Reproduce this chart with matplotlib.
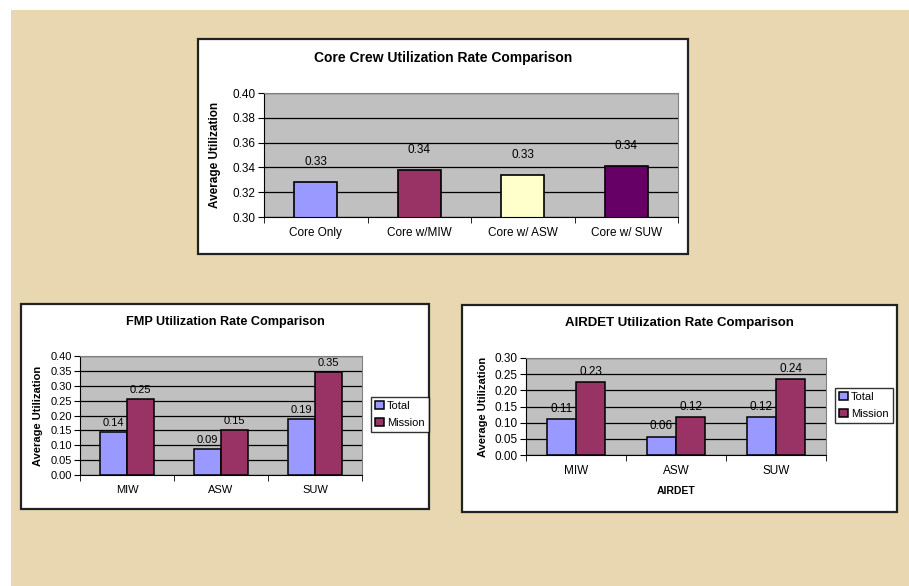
import numpy as np
import matplotlib
matplotlib.use('Agg')
import matplotlib.pyplot as plt
from matplotlib.patches import Rectangle

plt.rcParams['font.family'] = ['Liberation Sans', 'DejaVu Sans']

# core crew comparison
core_cats = ['Core Only', 'Core w/MIW', 'Core w/ ASW', 'Core w/ SUW']
core_vals = [0.328, 0.338, 0.334, 0.341]
core_colors = ['#9999FF', '#993366', '#FFFFCC', '#660066']

# detachment comparisons
det_cats = ['MIW', 'ASW', 'SUW']
fmp_total = [0.144, 0.088, 0.189]
fmp_mission = [0.254, 0.152, 0.346]
airdet_total = [0.110, 0.057, 0.117]
airdet_mission = [0.226, 0.117, 0.236]

W, H = 909, 586
fig = plt.figure(figsize=(W / 100, H / 100), dpi=100, facecolor='white')

def px_rect(l, t, r, b, **kw):
    fig.patches.append(Rectangle((l / W, 1 - b / H), (r - l) / W, (b - t) / H,
                                 transform=fig.transFigure, **kw))

def px_axes(l, t, r, b):
    a = fig.add_axes([l / W, 1 - b / H, (r - l) / W, (b - t) / H])
    a.set_zorder(3)
    return a

# page background and chart frames
px_rect(11, 10, W + 5, H + 5, facecolor='#E8D7B0', edgecolor='none', zorder=0)
px_rect(198, 39, 688, 254, facecolor='white', edgecolor='#222222', lw=1.6, zorder=1)
px_rect(21, 304, 429, 509, facecolor='white', edgecolor='#222222', lw=1.6, zorder=1)
px_rect(462, 305, 897, 512, facecolor='white', edgecolor='#222222', lw=1.6, zorder=1)

def style_axes(ax, ymin, ymax, step, ncat, fs, xpad):
    ax.set_facecolor('#C0C0C0')
    ax.set_ylim(ymin, ymax)
    ax.set_xlim(-0.5, ncat - 0.5)
    ticks = np.arange(ymin, ymax + step / 2, step)
    ax.set_yticks(ticks)
    ax.set_yticklabels(['%.2f' % t for t in ticks], fontsize=fs)
    ax.yaxis.grid(True, color='black', lw=0.9)
    ax.set_axisbelow(True)
    for s in ['top', 'right']:
        ax.spines[s].set_color('#808080')
    for s in ['left', 'bottom']:
        ax.spines[s].set_color('black')
    ax.set_xticks(range(ncat))
    ax.set_xticks(np.arange(-0.5, ncat, 1.0), minor=True)
    ax.tick_params(axis='x', which='major', length=0, pad=xpad, labelsize=fs)
    ax.tick_params(axis='x', which='minor', length=4, direction='out')
    ax.tick_params(axis='y', length=4, direction='out', pad=2)

def add_labels(ax, bars, vals, offset, fs):
    for b, v in zip(bars, vals):
        ax.annotate('%.2f' % v, (b.get_x() + b.get_width() / 2, v),
                    xytext=(0, offset), textcoords='offset points',
                    ha='center', va='bottom', fontsize=fs)

# top chart
ax = px_axes(264, 93, 678, 217)
style_axes(ax, 0.30, 0.40, 0.02, 4, 8.5, 7)
x = np.arange(4)
bars = ax.bar(x, core_vals, width=0.42, color=core_colors, edgecolor='black', lw=1.2)
ax.set_xticklabels(core_cats)
add_labels(ax, bars, core_vals, 10, 8.5)
ax.set_ylabel('Average Utilization', fontsize=8.5, fontweight='bold', labelpad=8)
fig.text(443 / W, 1 - 58 / H, 'Core Crew Utilization Rate Comparison',
         ha='center', va='center', fontsize=10, fontweight='bold', zorder=4)

def pair_chart(box, vals_t, vals_m, ymax, title, title_xy, title_fs, fs,
               legend_box, xlabel=None):
    ax = px_axes(*box)
    style_axes(ax, 0.0, ymax, 0.05, 3, fs, 7)
    x = np.arange(3)
    w = 0.29
    b1 = ax.bar(x - w / 2, vals_t, width=w, color='#9999FF', edgecolor='black', lw=1.1, label='Total')
    b2 = ax.bar(x + w / 2, vals_m, width=w, color='#993366', edgecolor='black', lw=1.1, label='Mission')
    ax.set_xticklabels(det_cats)
    add_labels(ax, b1, vals_t, 3, fs)
    add_labels(ax, b2, vals_m, 3, fs)
    ax.set_ylabel('Average Utilization', fontsize=8, fontweight='bold', labelpad=5)
    if xlabel:
        ax.set_xlabel(xlabel, fontsize=7.5, fontweight='bold', labelpad=7)
    fig.text(title_xy[0] / W, 1 - title_xy[1] / H, title,
             ha='center', va='center', fontsize=title_fs, fontweight='bold', zorder=4)
    l, t, r, b = legend_box
    leg = fig.legend(handles=[b1, b2], loc='upper left',
                     bbox_to_anchor=(l / W, 1 - t / H), fontsize=8,
                     frameon=True, fancybox=False, edgecolor='black',
                     handlelength=0.8, handleheight=0.8, handletextpad=0.3,
                     borderpad=0.35, labelspacing=0.6, borderaxespad=0)
    leg.get_frame().set_linewidth(1.0)
    leg.set_zorder(5)
    return ax

pair_chart((80, 356, 362, 475), fmp_total, fmp_mission, 0.40,
           'FMP Utilization Rate Comparison', (225, 322), 9.1, 8,
           (371, 397, 426, 433))
pair_chart((526, 358, 826, 455), airdet_total, airdet_mission, 0.30,
           'AIRDET Utilization Rate Comparison', (679, 323), 9.5, 8.5,
           (835, 388, 893, 426), xlabel='AIRDET')

fig.savefig('out.png', dpi=100, facecolor=fig.get_facecolor())
